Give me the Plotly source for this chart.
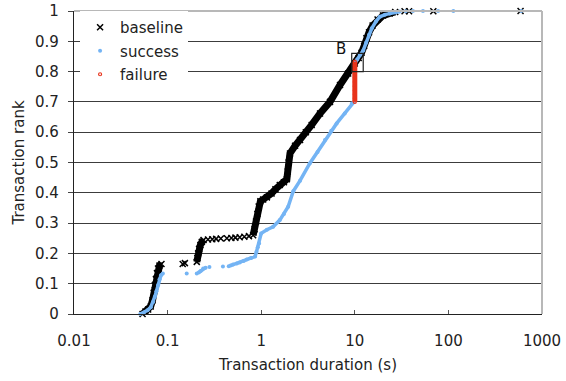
import plotly.graph_objects as go

# ---- data (None separates dense runs from sparse points) ----
baseline_x = [0.054, 0.058, 0.062, 0.066, 0.069, 0.071, 0.073, 0.075, 0.077, 0.079, 0.082, 0.086, None,
              0.145, None, 0.153, None,
              0.205, 0.208, 0.212, 0.217, 0.224, 0.232, 0.242, None,
              0.27, None, 0.30, None, 0.33, None, 0.37, None, 0.43, None, 0.48, None, 0.53, None,
              0.59, None, 0.66, None, 0.74, None,
              0.82, 0.85, 0.88, 0.91, 0.94, 0.98, 1.05, 1.15, 1.29, 1.42, 1.58, 1.75, 1.88, 1.92,
              1.96, 2.03, 2.3, 2.6, 3.0, 3.46, 4.25, 5.43, 6.95, 8.5, 10.0, 11.0, 11.8, 12.6, 13.3,
              14.2, 15.5, 17.5, 20.0, 23.6, 27.0, None,
              34, None, 38, None, 69, None, 590]
baseline_y = [0.000, 0.008, 0.015, 0.025, 0.045, 0.070, 0.095, 0.115, 0.135, 0.150, 0.160, 0.165, None,
              0.165, None, 0.168, None,
              0.172, 0.185, 0.200, 0.215, 0.228, 0.238, 0.244, None,
              0.246, None, 0.247, None, 0.248, None, 0.249, None, 0.250, None, 0.251, None, 0.252, None,
              0.253, None, 0.255, None, 0.257, None,
              0.260, 0.280, 0.305, 0.330, 0.355, 0.372, 0.378, 0.385, 0.398, 0.412, 0.426, 0.435, 0.445, 0.470,
              0.500, 0.530, 0.555, 0.574, 0.600, 0.624, 0.662, 0.700, 0.756, 0.794, 0.827, 0.845, 0.862, 0.885, 0.910,
              0.930, 0.952, 0.972, 0.985, 0.992, 0.997, None,
              0.999, None, 0.999, None, 0.999, None, 1.0]

success_x = [0.051, 0.056, 0.061, 0.066, 0.070, 0.073, 0.076, 0.079, 0.082, 0.085, 0.089, None,
             0.16, None, 0.205, None,
             0.215, 0.225, 0.24, 0.255, None,
             0.28, None, 0.39, None, 0.45, None,
             0.47, 0.50, 0.55, 0.59, 0.65, 0.70, 0.78, 0.86, 0.89, 0.92, 0.95, 1.0, 1.15, 1.34, 1.58, 1.75,
             1.94, 2.2, 2.6, 3.3, 4.0, 4.8, 5.6, 6.4, 7.8, 9.3, 9.8, None,
             10.1, 10.6, 11.3, 12.3, 13.2, 14.2, 15.2, 16.8, 18.5, 21.0, 23.6, 27.0, 30.2, None,
             35, None, 41.8, None, 53.5, None, 77.6, None, 113, None, 600]
success_y = [0.000, 0.005, 0.012, 0.022, 0.040, 0.057, 0.075, 0.095, 0.115, 0.128, 0.134, None,
             0.134, None, 0.134, None,
             0.137, 0.142, 0.150, 0.153, None,
             0.155, None, 0.157, None, 0.158, None,
             0.160, 0.163, 0.167, 0.170, 0.175, 0.180, 0.185, 0.190, 0.205, 0.220, 0.233, 0.266, 0.278, 0.288, 0.310, 0.330,
             0.354, 0.405, 0.440, 0.497, 0.535, 0.574, 0.605, 0.629, 0.662, 0.695, 0.700, None,
             0.830, 0.840, 0.855, 0.870, 0.895, 0.922, 0.943, 0.965, 0.981, 0.988, 0.992, 0.996, 0.998, None,
             0.999, None, 1.0, None, 1.0, None, 1.0, None, 1.0, None, 1.0]

failure_x = [10.0, 10.0, 10.0, 10.0, 10.0, 10.0, 10.0, 10.0, 10.0, 10.0, 10.0]
failure_y = [0.700, 0.712, 0.725, 0.738, 0.752, 0.766, 0.780, 0.794, 0.808, 0.820, 0.833]

x_ticks = [0.01, 0.1, 1, 10, 100, 1000]
x_tick_labels = ["0.01", "0.1", "1", "10", "100", "1000"]
y_ticks = [0, 0.1, 0.2, 0.3, 0.4, 0.5, 0.6, 0.7, 0.8, 0.9, 1]
y_tick_labels = ["0", "0.1", "0.2", "0.3", "0.4", "0.5", "0.6", "0.7", "0.8", "0.9", "1"]

# region marked "B" (data units: duration / rank)
box_b_x = [9.27, 12.3]
box_b_y = [0.80, 0.86]

BLACK = "#000000"
BLUE = "#74B4F4"
RED = "#E8341C"
FONT = "DejaVu Sans"
FS = 15

fig = go.Figure()

# baseline
fig.add_trace(go.Scatter(x=baseline_x, y=baseline_y, mode="lines", connectgaps=False,
                         line=dict(color=BLACK, width=7), showlegend=False, hoverinfo="skip"))
fig.add_trace(go.Scatter(x=baseline_x, y=baseline_y, mode="markers", name="baseline",
                         legendgroup="b", cliponaxis=False,
                         marker=dict(symbol="x-thin", size=6, color=BLACK,
                                     line=dict(color=BLACK, width=1.5))))
# success
fig.add_trace(go.Scatter(x=success_x, y=success_y, mode="lines", connectgaps=False,
                         line=dict(color=BLUE, width=3.5), showlegend=False, hoverinfo="skip"))
fig.add_trace(go.Scatter(x=success_x, y=success_y, mode="markers", name="success",
                         legendgroup="s", cliponaxis=False,
                         marker=dict(symbol="circle", size=4, color=BLUE)))
# failure
fig.add_trace(go.Scatter(x=failure_x, y=failure_y, mode="lines", line=dict(color=RED, width=5),
                         showlegend=False, hoverinfo="skip"))
fig.add_trace(go.Scatter(x=failure_x, y=failure_y, mode="markers", name="failure",
                         legendgroup="f",
                         marker=dict(symbol="circle-open", size=3, color=RED,
                                     line=dict(color=RED, width=1.2))))

# "B" box
fig.add_shape(type="rect", xref="x", yref="y", x0=box_b_x[0], x1=box_b_x[1],
              y0=box_b_y[0], y1=box_b_y[1],
              line=dict(color="#222222", width=1.2), fillcolor="rgba(0,0,0,0)", layer="above")
fig.add_annotation(text="B", xref="x", yref="y", x=0.925, y=0.838, xanchor="right",
                   yanchor="bottom", showarrow=False, font=dict(family=FONT, size=FS, color="#111"))

# light grey top / right border
fig.add_shape(type="line", xref="paper", yref="paper", x0=0, x1=1, y0=1, y1=1,
              line=dict(color="#b8b8b8", width=2))
fig.add_shape(type="line", xref="paper", yref="paper", x0=1, x1=1, y0=0, y1=1,
              line=dict(color="#b8b8b8", width=2))

fig.update_layout(
    width=566, height=381,
    margin=dict(l=74, r=24, t=11, b=67, autoexpand=False),
    paper_bgcolor="white", plot_bgcolor="white",
    font=dict(family=FONT, size=FS, color="#222222"),
    showlegend=True,
    legend=dict(x=0.013, y=1.0, xanchor="left", yanchor="top", bgcolor="white",
                font=dict(family=FONT, size=FS, color="#222"), tracegroupgap=1,
                traceorder="grouped", borderwidth=0),
    xaxis=dict(type="log", range=[-2, 3], tickvals=x_ticks, ticktext=x_tick_labels,
               showgrid=False, zeroline=False, showline=True, linecolor="#222", linewidth=1.2,
               ticks="inside", ticklen=4, tickcolor="#555", ticklabelstandoff=13,
               title=dict(text="Transaction duration (s)", standoff=10,
                          font=dict(family=FONT, size=FS, color="#222"))),
    yaxis=dict(range=[0, 1], tickvals=y_ticks, ticktext=y_tick_labels,
               showgrid=True, gridcolor="#3c3c3c", gridwidth=1, zeroline=False,
               showline=True, linecolor="#222", linewidth=1.2,
               ticks="outside", ticklen=5, tickcolor="#444", ticklabelstandoff=6,
               title=dict(text="Transaction rank", standoff=6,
                          font=dict(family=FONT, size=FS, color="#222"))),
)

fig.write_html("out.html")
